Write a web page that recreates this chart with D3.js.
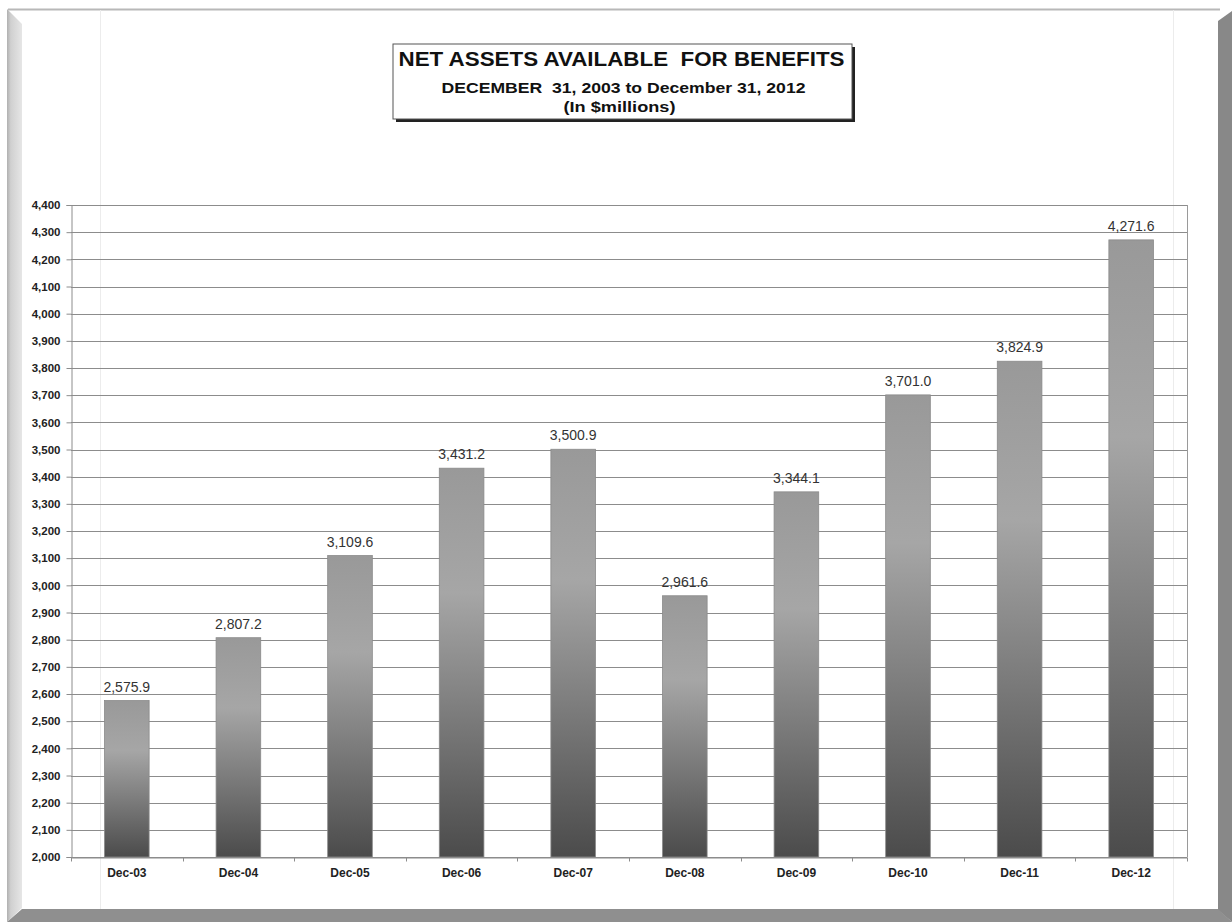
<!DOCTYPE html>
<html>
<head>
<meta charset="utf-8">
<script src="https://cdn.jsdelivr.net/npm/d3@7/dist/d3.min.js"></script>
<style>
  html, body { margin: 0; padding: 0; background: #fff; }
  svg { display: block; font-family: "Liberation Sans", Arial, sans-serif; }
</style>
</head>
<body>
<svg id="chart" width="1232" height="922"></svg>
<script>
// Données
const categories = ["Dec-03", "Dec-04", "Dec-05", "Dec-06", "Dec-07", "Dec-08", "Dec-09", "Dec-10", "Dec-11", "Dec-12"];
const values = [2575.9, 2807.2, 3109.6, 3431.2, 3500.9, 2961.6, 3344.1, 3701.0, 3824.9, 4271.6];
const yTicks = d3.range(2000, 4401, 100);
const titleLines = ["NET ASSETS AVAILABLE  FOR BENEFITS", "DECEMBER  31, 2003 to December 31, 2012", "(In $millions)"];

const svg = d3.select("#chart");
const W = 1232, H = 922;

// Cadre (effet biseau)
svg.append("rect").attr("x", 0).attr("y", 0).attr("width", W).attr("height", H).attr("fill", "#fff");
svg.append("line").attr("x1", 8).attr("x2", 1220).attr("y1", 9.5).attr("y2", 9.5).attr("stroke", "#b8b8b8").attr("stroke-width", 2);

const defs = svg.append("defs");
const lg = defs.append("linearGradient").attr("id", "leftBevel").attr("x1", 0).attr("x2", 1).attr("y1", 0).attr("y2", 0);
lg.append("stop").attr("offset", 0).attr("stop-color", "#b0b0b0");
lg.append("stop").attr("offset", 0.25).attr("stop-color", "#d0d0d0");
lg.append("stop").attr("offset", 1).attr("stop-color", "#e6e6e6");

svg.append("path").attr("d", "M7,9 L22,24 L22,908 L7,922 Z").attr("fill", "url(#leftBevel)");
svg.append("path").attr("d", "M1232,11 L1218,21 L1218,910 L1232,922 Z").attr("fill", "#888888");
svg.append("path").attr("d", "M7,922 L22,909 L1218,909 L1232,922 Z").attr("fill", "#8f8f8f");

// lignes de cellules (fond tableur)
[100, 1173].forEach(x => {
  svg.append("line").attr("x1", x + 0.5).attr("x2", x + 0.5).attr("y1", 10).attr("y2", 909)
    .attr("stroke", "#ececec").attr("stroke-width", 1);
});

// Zone de tracé
const plot = { left: 71, right: 1187, top: 205, bottom: 857 };

const x = d3.scaleBand().domain(categories).range([plot.left, plot.right]).paddingInner(0.6).paddingOuter(0.3);
const y = d3.scaleLinear().domain([2000, 4400]).range([plot.bottom, plot.top]);

const g = svg.append("g");

// Grille
g.selectAll(".grid")
  .data(yTicks)
  .enter()
  .append("line")
  .attr("class", "grid")
  .attr("x1", plot.left).attr("x2", plot.right)
  .attr("y1", d => Math.round(y(d)) + 0.5).attr("y2", d => Math.round(y(d)) + 0.5)
  .attr("stroke", "#8c8c8c").attr("stroke-width", 1);

g.append("line").attr("x1", plot.right + 0.5).attr("x2", plot.right + 0.5).attr("y1", plot.top).attr("y2", plot.bottom)
  .attr("stroke", "#9a9a9a");

// Dégradé des barres
const bg = defs.append("linearGradient").attr("id", "barGrad").attr("x1", 0).attr("x2", 0).attr("y1", 0).attr("y2", 1);
bg.append("stop").attr("offset", 0).attr("stop-color", "#999999");
bg.append("stop").attr("offset", 0.32).attr("stop-color", "#a6a6a6");
bg.append("stop").attr("offset", 1).attr("stop-color", "#4b4b4b");

g.selectAll(".bar")
  .data(values)
  .enter()
  .append("rect")
  .attr("class", "bar")
  .attr("x", (d, i) => x(categories[i]))
  .attr("y", d => y(d))
  .attr("width", x.bandwidth())
  .attr("height", d => plot.bottom - y(d))
  .attr("fill", "url(#barGrad)")
  .attr("stroke", "#8a8a8a").attr("stroke-width", 0.8);

// Étiquettes de valeurs
g.selectAll(".val")
  .data(values)
  .enter()
  .append("text")
  .attr("class", "val")
  .attr("x", (d, i) => x(categories[i]) + x.bandwidth() / 2)
  .attr("y", d => y(d) - 9)
  .attr("text-anchor", "middle")
  .attr("font-size", 14)
  .attr("fill", "#333")
  .text(d => d3.format(",.1f")(d));

// Axe Y
const yAxis = d3.axisLeft(y).tickValues(yTicks).tickSize(5).tickPadding(6).tickFormat(d3.format(","));
const ya = svg.append("g").attr("transform", `translate(${plot.left + 0.5},0)`).call(yAxis);
ya.select(".domain").attr("stroke", "#8c8c8c");
ya.selectAll(".tick line").attr("stroke", "#8c8c8c");
ya.selectAll("text").attr("font-size", 11.5).attr("font-weight", "bold").attr("fill", "#222")
  .attr("font-family", "Liberation Sans, Arial, sans-serif");

// Axe X
const xAxis = d3.axisBottom(x).tickSize(0).tickPadding(11);
const xa = svg.append("g").attr("transform", `translate(0,${plot.bottom + 0.5})`).call(xAxis);
xa.select(".domain").attr("stroke", "#8c8c8c");
xa.selectAll("text").attr("font-size", 12).attr("font-weight", "bold").attr("fill", "#222")
  .attr("font-family", "Liberation Sans, Arial, sans-serif");
// petites graduations entre catégories
const step = x.step();
xa.selectAll(".sep")
  .data(d3.range(categories.length + 1))
  .enter()
  .append("line")
  .attr("class", "sep")
  .attr("x1", i => Math.round(plot.left + i * step) + 0.5)
  .attr("x2", i => Math.round(plot.left + i * step) + 0.5)
  .attr("y1", 0).attr("y2", 4)
  .attr("stroke", "#8c8c8c");

// Titre encadré
const tb = { x: 393, y: 44, w: 459, h: 75 };
svg.append("rect").attr("x", tb.x + 3).attr("y", tb.y + 3).attr("width", tb.w).attr("height", tb.h).attr("fill", "#222");
svg.append("rect").attr("x", tb.x).attr("y", tb.y).attr("width", tb.w).attr("height", tb.h)
  .attr("fill", "#fff").attr("stroke", "#555").attr("stroke-width", 1);

const cx = tb.x + tb.w / 2 - 1;
svg.append("text").attr("x", cx).attr("y", 66).attr("text-anchor", "middle")
  .attr("font-size", 20).attr("font-weight", "bold").attr("fill", "#111").attr("xml:space", "preserve")
  .attr("textLength", 446).attr("lengthAdjust", "spacingAndGlyphs")
  .text(titleLines[0]);
svg.append("text").attr("x", cx + 2).attr("y", 93).attr("text-anchor", "middle")
  .attr("font-size", 15).attr("font-weight", "bold").attr("fill", "#111").attr("xml:space", "preserve")
  .attr("textLength", 364).attr("lengthAdjust", "spacingAndGlyphs")
  .text(titleLines[1]);
svg.append("text").attr("x", cx - 2).attr("y", 112).attr("text-anchor", "middle")
  .attr("font-size", 15).attr("font-weight", "bold").attr("fill", "#111")
  .attr("textLength", 112).attr("lengthAdjust", "spacingAndGlyphs")
  .text(titleLines[2]);
</script>
</body>
</html>
